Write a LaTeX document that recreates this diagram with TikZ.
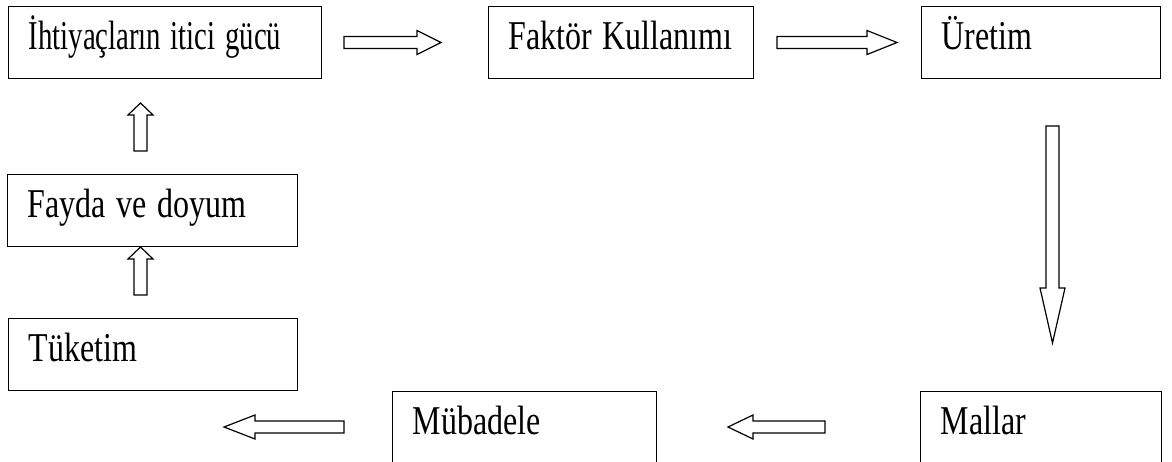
\documentclass[tikz,border=0pt]{standalone}
\usepackage{fontspec}
\usepackage{graphicx}
\setmainfont{Liberation Serif}
\newcommand{\tallt}[2][1]{\scalebox{#1}[1.28]{#2}}
\begin{document}
\begin{tikzpicture}[x=1pt,y=-1pt,
  box/.style={draw, line width=1.2pt, anchor=north west, inner xsep=0pt, inner ysep=0pt,
    align=left, minimum height=72pt, text height=24pt, text depth=10pt,
    font=\fontsize{32}{38}\selectfont, execute at begin node={\hspace*{20pt}}},
  blk/.style={draw, line width=1.2pt, fill=white, line join=miter}]
\clip (0,0) rectangle (1172,461);
\fill[white] (0,0) rectangle (1172,461);
% boxes
\node[box, text width=313pt] (need) at (8,6) {\tallt[0.9]{İhtiyaçların itici gücü}};
\node[box, text width=265pt] (factor) at (488,6) {\tallt{Faktör Kullanımı}};
\node[box, text width=239pt] (prod) at (921,6) {\tallt{Üretim}};
\node[box, text width=241pt] (goods) at (920,391) {\tallt{Mallar}};
\node[box, text width=264pt] (exch) at (392,391) {\tallt{Mübadele}};
\node[box, text width=289pt] (cons) at (8,318) {\tallt{Tüketim}};
\node[box, text width=290pt] (util) at (7,174) {\tallt{Fayda ve doyum}};
% right arrows
\draw[blk] (344,36.5) -- (417,36.5) -- (417,30.5) -- (441,42.5) -- (417,54.5) -- (417,48.5) -- (344,48.5) -- cycle;
\draw[blk] (777,36.5) -- (867,36.5) -- (867,30.5) -- (897,42.5) -- (867,54.5) -- (867,48.5) -- (777,48.5) -- cycle;
% down arrow
\draw[blk] (1046,126) -- (1046,288) -- (1040,288) -- (1052.5,343) -- (1065,288) -- (1059,288) -- (1059,126) -- cycle;
% up arrows
\draw[blk] (134,151) -- (134,115) -- (128,115) -- (140.5,103) -- (153,115) -- (147,115) -- (147,151) -- cycle;
\draw[blk] (134,295) -- (134,259) -- (128,259) -- (140.5,247) -- (153,259) -- (147,259) -- (147,295) -- cycle;
% left arrows
\draw[blk] (344,421) -- (255,421) -- (255,415) -- (224,427) -- (255,439) -- (255,433) -- (344,433) -- cycle;
\draw[blk] (825,421) -- (753,421) -- (753,415) -- (728,427) -- (753,439) -- (753,433) -- (825,433) -- cycle;
\end{tikzpicture}
\end{document}
